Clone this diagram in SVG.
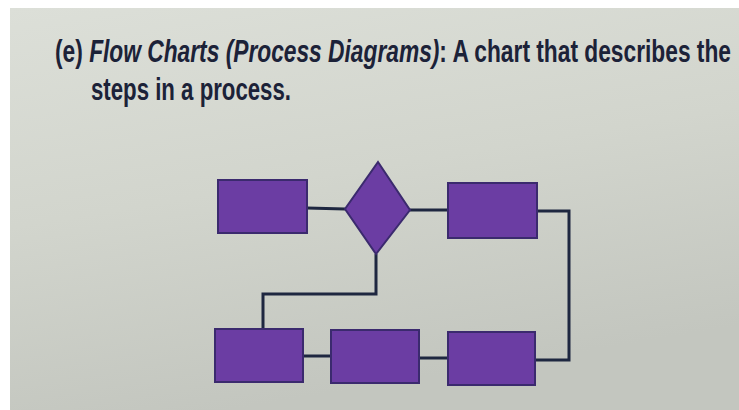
<svg xmlns="http://www.w3.org/2000/svg" width="739" height="410" viewBox="0 0 739 410">
<defs>
<linearGradient id="bg" x1="0" y1="0" x2="0.3" y2="1">
<stop offset="0" stop-color="#dcdfd8"/>
<stop offset="0.5" stop-color="#d2d5cd"/>
<stop offset="1" stop-color="#c3c6bf"/>
</linearGradient>
<style>
.box{fill:#6b3da3;stroke:#3b2a6e;stroke-width:2}
.conn{fill:none;stroke:#1e2740;stroke-width:3}
.t{font-family:"Liberation Sans",Arial,sans-serif;font-weight:bold;fill:#1c2238;font-size:31px}
</style>
</defs>
<rect x="0" y="0" width="739" height="410" fill="#ffffff"/>
<rect x="10" y="8" width="729" height="402" fill="url(#bg)"/>
<text class="t" x="55" y="62" textLength="676" lengthAdjust="spacingAndGlyphs">(e) <tspan font-style="italic">Flow Charts (Process Diagrams)</tspan>: A chart that describes the</text>
<text class="t" x="91" y="100" textLength="200" lengthAdjust="spacingAndGlyphs">steps in a process.</text>
<g id="connectors">
<path class="conn" d="M307 208 L345 209"/>
<path class="conn" d="M410 210 L448 210"/>
<path class="conn" d="M537 211 L569 211 L569 360 L535 360"/>
<path class="conn" d="M376 254 L376 294 L263 294 L263 329"/>
<path class="conn" d="M303 356 L331 356"/>
<path class="conn" d="M419 358 L448 358"/>
</g>
<g id="n1"><rect class="box" x="218" y="180" width="89" height="53"/></g>
<g id="n2"><polygon class="box" points="378,162 410,210 376,254 345,209"/></g>
<g id="n3"><rect class="box" x="448" y="183" width="89" height="55"/></g>
<g id="n4"><rect class="box" x="215" y="329" width="88" height="53"/></g>
<g id="n5"><rect class="box" x="331" y="330" width="88" height="53"/></g>
<g id="n6"><rect class="box" x="448" y="332" width="87" height="53"/></g>
</svg>
